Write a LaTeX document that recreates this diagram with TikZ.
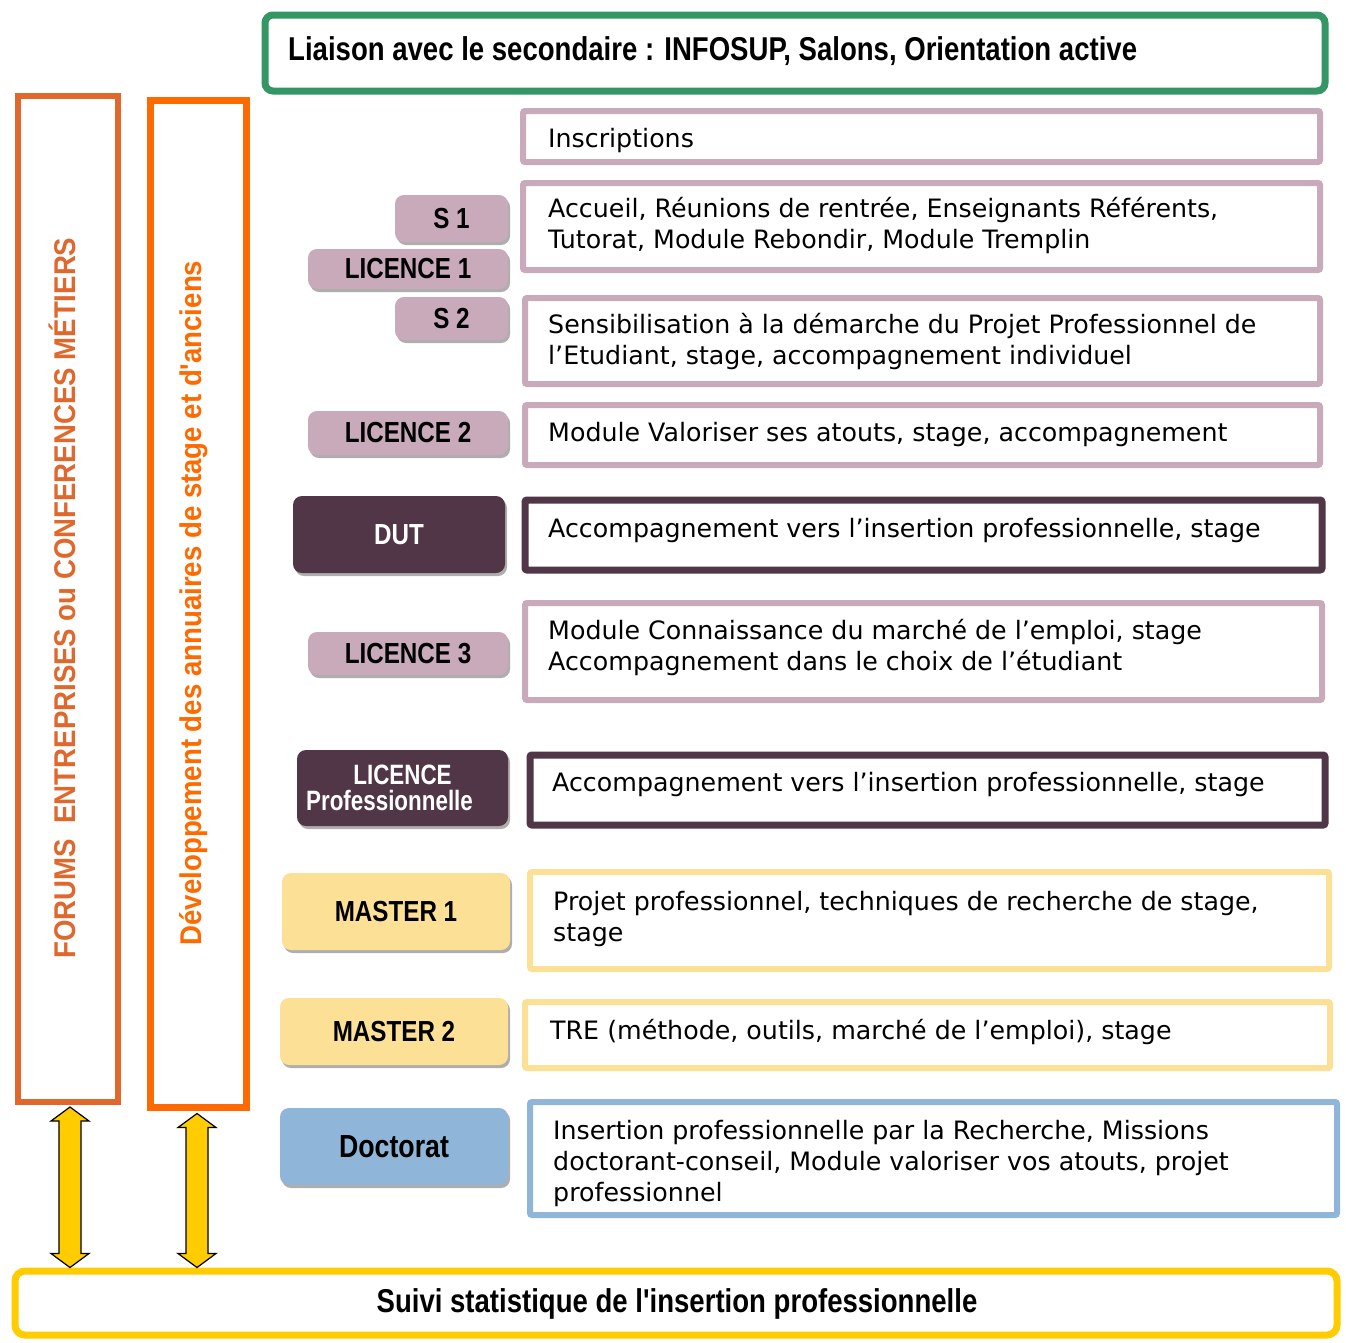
\documentclass[tikz,border=0pt]{standalone}
\usepackage{fontspec}
\setmainfont{DejaVu Sans}
\newfontfamily\condb[FakeStretch=0.835]{Liberation Sans}
\newfontfamily\condc[FakeStretch=0.8]{Liberation Sans}
\newfontfamily\vertb[FakeStretch=0.92]{Liberation Sans}
\usetikzlibrary{shadows,calc}
\definecolor{grn}{RGB}{52,150,100}
\definecolor{pnk}{RGB}{201,170,187}
\definecolor{plum}{RGB}{80,54,70}
\definecolor{ylw}{RGB}{252,224,150}
\definecolor{blu}{RGB}{143,182,216}
\definecolor{or1}{RGB}{224,104,44}
\definecolor{or2}{RGB}{255,106,0}
\definecolor{gold}{RGB}{255,204,0}
\newcommand\bx[6]{\node[#6, minimum width={#4-#2}, minimum height={#5-#3}] (#1) at ({(#2+#4)/2},{(#3+#5)/2}) {};}
\newcommand\lb[7]{\node[lab,#6, minimum width={#4-#2}, minimum height={#5-#3}] (#1) at ({(#2+#4)/2},{(#3+#5)/2}) {#7};}
\begin{document}
\begin{tikzpicture}[x=1pt,y=-1pt,
  rbox/.style={draw, line width=6pt, inner sep=0pt, rounded corners=2pt},
  lab/.style={rounded corners=9pt, inner sep=0pt, align=center,
     font=\condb\bfseries\fontsize{29}{31}\selectfont,
     drop shadow={shadow xshift=2pt, shadow yshift=-3pt, opacity=0.45, fill=black!70}},
  txt/.style={anchor=west, align=left, inner sep=0pt,
     font=\fontsize{25.3}{31}\selectfont},
  arr/.style={fill=gold, draw=black, line width=1.2pt, line join=miter}]
\useasboundingbox (0,0) rectangle (1346,1342);
\fill[white] (0,0) rectangle (1346,1342);
% top and bottom
\bx{top}{265}{15}{1325}{91}{draw=grn, line width=7pt, rounded corners=8pt}
\node[anchor=west, inner sep=0pt, font=\condb\bfseries\fontsize{33}{35}\selectfont] (toptxt) at (288,51) {Liaison avec le secondaire : INFOSUP, Salons, Orientation active};
\bx{bot}{15}{1271}{1337}{1335}{draw=gold, line width=7pt, rounded corners=10pt}
\node[inner sep=0pt, font=\condb\bfseries\fontsize{33}{35}\selectfont] (bottxt) at (677,1304) {Suivi statistique de l'insertion professionnelle};
% orange side boxes
\bx{o1}{18}{96}{118}{1102}{draw=or1, line width=6pt}
\bx{o2}{150}{100}{246}{1107}{draw=or2, line width=7pt}
\node[rotate=90, inner sep=0pt, text=or1, font=\vertb\bfseries\fontsize{30}{32}\selectfont] (o1t) at (62,598) {FORUMS\ \ ENTREPRISES ou CONFERENCES MÉTIERS};
\node[rotate=90, inner sep=0pt, text=or2, font=\vertb\bfseries\fontsize{30}{32}\selectfont] (o2t) at (194,603) {Développement des annuaires de stage et d'anciens};
% right boxes
\bx{ins}{523}{111}{1320}{162}{rbox, draw=pnk}
\bx{acc}{523}{183}{1320}{270}{rbox, draw=pnk}
\bx{sens}{525}{298}{1320}{384}{rbox, draw=pnk}
\bx{val}{525}{405}{1320}{465}{rbox, draw=pnk}
\bx{dutb}{525}{500}{1322}{570}{rbox, draw=plum, line width=7pt}
\bx{ltb}{525}{603}{1322}{700}{rbox, draw=pnk}
\bx{lpb}{530}{755}{1325}{825}{rbox, draw=plum, line width=7pt}
\bx{mab}{530}{872}{1329}{969}{rbox, draw=ylw}
\bx{mbb}{525}{1002}{1330}{1068}{rbox, draw=ylw}
\bx{docb}{530}{1102}{1337}{1215}{rbox, draw=blu}
% texts
\node[txt] (t1) at (548,141) {Inscriptions};
\node[txt] (t2) at (548,226) {Accueil, Réunions de rentrée, Enseignants Référents,\\Tutorat, Module Rebondir, Module Tremplin};
\node[txt] (t3) at (548,342) {Sensibilisation à la démarche du Projet Professionnel de\\l’Etudiant, stage, accompagnement individuel};
\node[txt] (t4) at (548,435) {Module Valoriser ses atouts, stage, accompagnement};
\node[txt] (t5) at (548,531) {Accompagnement vers l’insertion professionnelle, stage};
\node[txt] (t6) at (548,648) {Module Connaissance du marché de l’emploi, stage\\Accompagnement dans le choix de l’étudiant};
\node[txt] (t7) at (552,785) {Accompagnement vers l’insertion professionnelle, stage};
\node[txt] (t8) at (553,919) {Projet professionnel, techniques de recherche de stage,\\stage};
\node[txt] (t9) at (550,1032) {TRE (méthode, outils, marché de l’emploi), stage};
\node[txt] (t10) at (553,1163) {Insertion professionnelle par la Recherche, Missions\\doctorant-conseil, Module valoriser vos atouts, projet\\professionnel};
% labels
\lb{s1}{395}{195}{508}{242}{fill=pnk}{S 1}
\lb{l1}{308}{249}{508}{289}{fill=pnk}{LICENCE 1}
\lb{s2}{395}{297}{508}{340}{fill=pnk}{S 2}
\lb{l2}{308}{411}{508}{455}{fill=pnk}{LICENCE 2}
\lb{dut}{293}{496}{505}{573}{fill=plum, text=white}{DUT}
\lb{l3}{308}{632}{508}{675}{fill=pnk}{LICENCE 3}
\lb{lp}{297}{750}{508}{826}{fill=plum, text=white, font=\condc\bfseries\fontsize{28}{30}\selectfont}{LICENCE\\[-4pt]Professionnelle\hspace*{26pt}}
\lb{m1}{282}{873}{510}{950}{fill=ylw}{MASTER 1}
\lb{m2}{280}{998}{508}{1065}{fill=ylw}{MASTER 2}
\lb{doc}{280}{1108}{508}{1185}{fill=blu, font=\condb\bfseries\fontsize{32}{34}\selectfont}{Doctorat}
% double arrows
\newcommand\darr[2]{%
 \draw[arr] let \p1=#1, \p2=#2 in
  (\x1,\y1) -- (\x1+19pt,\y1-14pt) -- (\x1+11pt,\y1-14pt) -- (\x1+11pt,\y2+14pt)
  -- (\x1+19pt,\y2+14pt) -- (\x1,\y2) -- (\x1-19pt,\y2+14pt) -- (\x1-11pt,\y2+14pt)
  -- (\x1-11pt,\y1-14pt) -- (\x1-19pt,\y1-14pt) -- cycle;}
\darr{($(o1.south)+(2,2)$)}{(bot.north)}
\darr{($(o2.south)+(-1,3)$)}{(bot.north)}
\end{tikzpicture}
\end{document}
